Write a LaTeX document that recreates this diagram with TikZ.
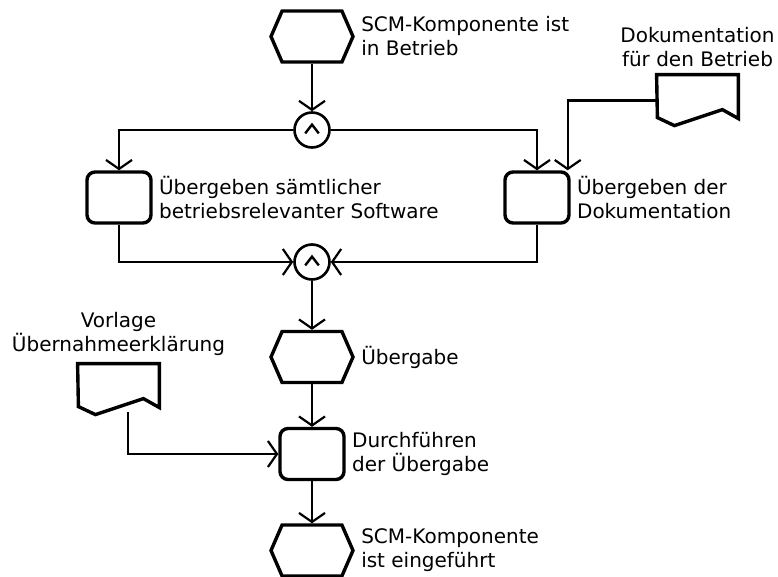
\documentclass[tikz,border=0pt]{standalone}
\usepackage{fontspec}
\setmainfont{DejaVu Sans}
\usetikzlibrary{arrows.meta,positioning,shapes.symbols}

\tikzset{
  ereignis/.style={signal, signal to=west and east, signal pointer angle=133,
    draw, line width=1.7pt, minimum width=41pt, minimum height=25.5pt, inner sep=0pt},
  funktion/.style={rectangle, rounded corners=4pt, draw, line width=1.7pt,
    minimum width=32pt, minimum height=25.5pt, inner sep=0pt},
  dokument/.style={rectangle, minimum width=40.5pt, minimum height=25.5pt, inner sep=0pt},
  umriss/.style={line width=1.7pt, line join=miter},
  und/.style={circle, draw, line width=1.3pt, minimum size=17.5pt, inner sep=0pt,
    path picture={\draw[line width=1.2pt]
      ([shift={(-3.4pt,-1.7pt)}]path picture bounding box.center)
      -- ([shift={(0pt,2.7pt)}]path picture bounding box.center)
      -- ([shift={(3.4pt,-1.7pt)}]path picture bounding box.center);}},
  beschriftung/.style={font=\fontsize{10}{12}\selectfont, align=left, inner sep=0pt},
  pfeil/.style={-{Straight Barb[length=4.5pt,width=13pt]}, line width=1.1pt},
}

\begin{document}
\begin{tikzpicture}[x=0.5pt,y=-0.5pt]
      \useasboundingbox (0,0) rectangle (778,577);

      % Ereignisse
      \node[ereignis] (inBetrieb) at (312,36.5) {};
      \node[beschriftung, right=3pt of inBetrieb] (inBetriebText) {SCM-Komponente ist\\in Betrieb};
      \node[ereignis] (uebergabe) at (312,357) {};
      \node[beschriftung, right=3pt of uebergabe] (uebergabeText) {Übergabe};
      \node[ereignis] (eingefuehrt) at (312,550.5) {};
      \node[beschriftung, right=3pt of eingefuehrt] (eingefuehrtText) {SCM-Komponente\\ist eingeführt};

      % Funktionen
      \node[funktion] (fSoftware) at (119,197.5) {};
      \node[beschriftung, right=3pt of fSoftware] (fSoftwareText) {Übergeben sämtlicher\\betriebsrelevanter Software};
      \node[funktion] (fDoku) at (537,197.5) {};
      \node[beschriftung, right=3pt of fDoku] (fDokuText) {Übergeben der\\Dokumentation};
      \node[funktion] (fDurch) at (312,454) {};
      \node[beschriftung, right=3pt of fDurch] (fDurchText) {Durchführen\\der Übergabe};

      % Konnektoren
      \node[und] (und1) at (312,130) {};
      \node[und] (und2) at (312,262) {};

      % Dokumente
      \node[dokument] (dDoku) at (697.5,100.5) {};
      \node[beschriftung, align=center, text depth=0pt, above=3.8pt of dDoku] (dDokuText) {Dokumentation\\für den Betrieb};
      \node[dokument] (dVorlage) at (118.5,389.5) {};
      \node[beschriftung, align=center, text depth=0pt, above=6pt of dVorlage] (dVorlageText) {Vorlage\\Übernahmeerklärung};
      \draw[umriss] (dDoku.north west) -- (dDoku.north east) -- ++(0,44) -- ++(-16,-9)
        -- ++(-48,16) -- ++(-17,-8) -- cycle;
      \draw[umriss] (dVorlage.north west) -- (dVorlage.north east) -- ++(0,44) -- ++(-16,-9)
        -- ++(-48,16) -- ++(-17,-8) -- cycle;

      % Kontrollfluss
      \draw[pfeil] (inBetrieb) -- (und1);
      \draw[pfeil] (und1) -| (fSoftware);
      \draw[pfeil] (und1) -| (fDoku);
      \draw[pfeil] (dDoku.west) -| ([xshift=-1.5pt]fDoku.north east);
      \draw[pfeil] (fSoftware) |- (und2);
      \draw[pfeil] (fDoku) |- (und2);
      \draw[pfeil] (und2) -- (uebergabe);
      \draw[pfeil] (uebergabe) -- (fDurch);
      \draw[pfeil] ([xshift=4.75pt,yshift=1.5pt]dVorlage.south) |- (fDurch);
      \draw[pfeil] (fDurch) -- (eingefuehrt);
    \end{tikzpicture}
\end{document}
